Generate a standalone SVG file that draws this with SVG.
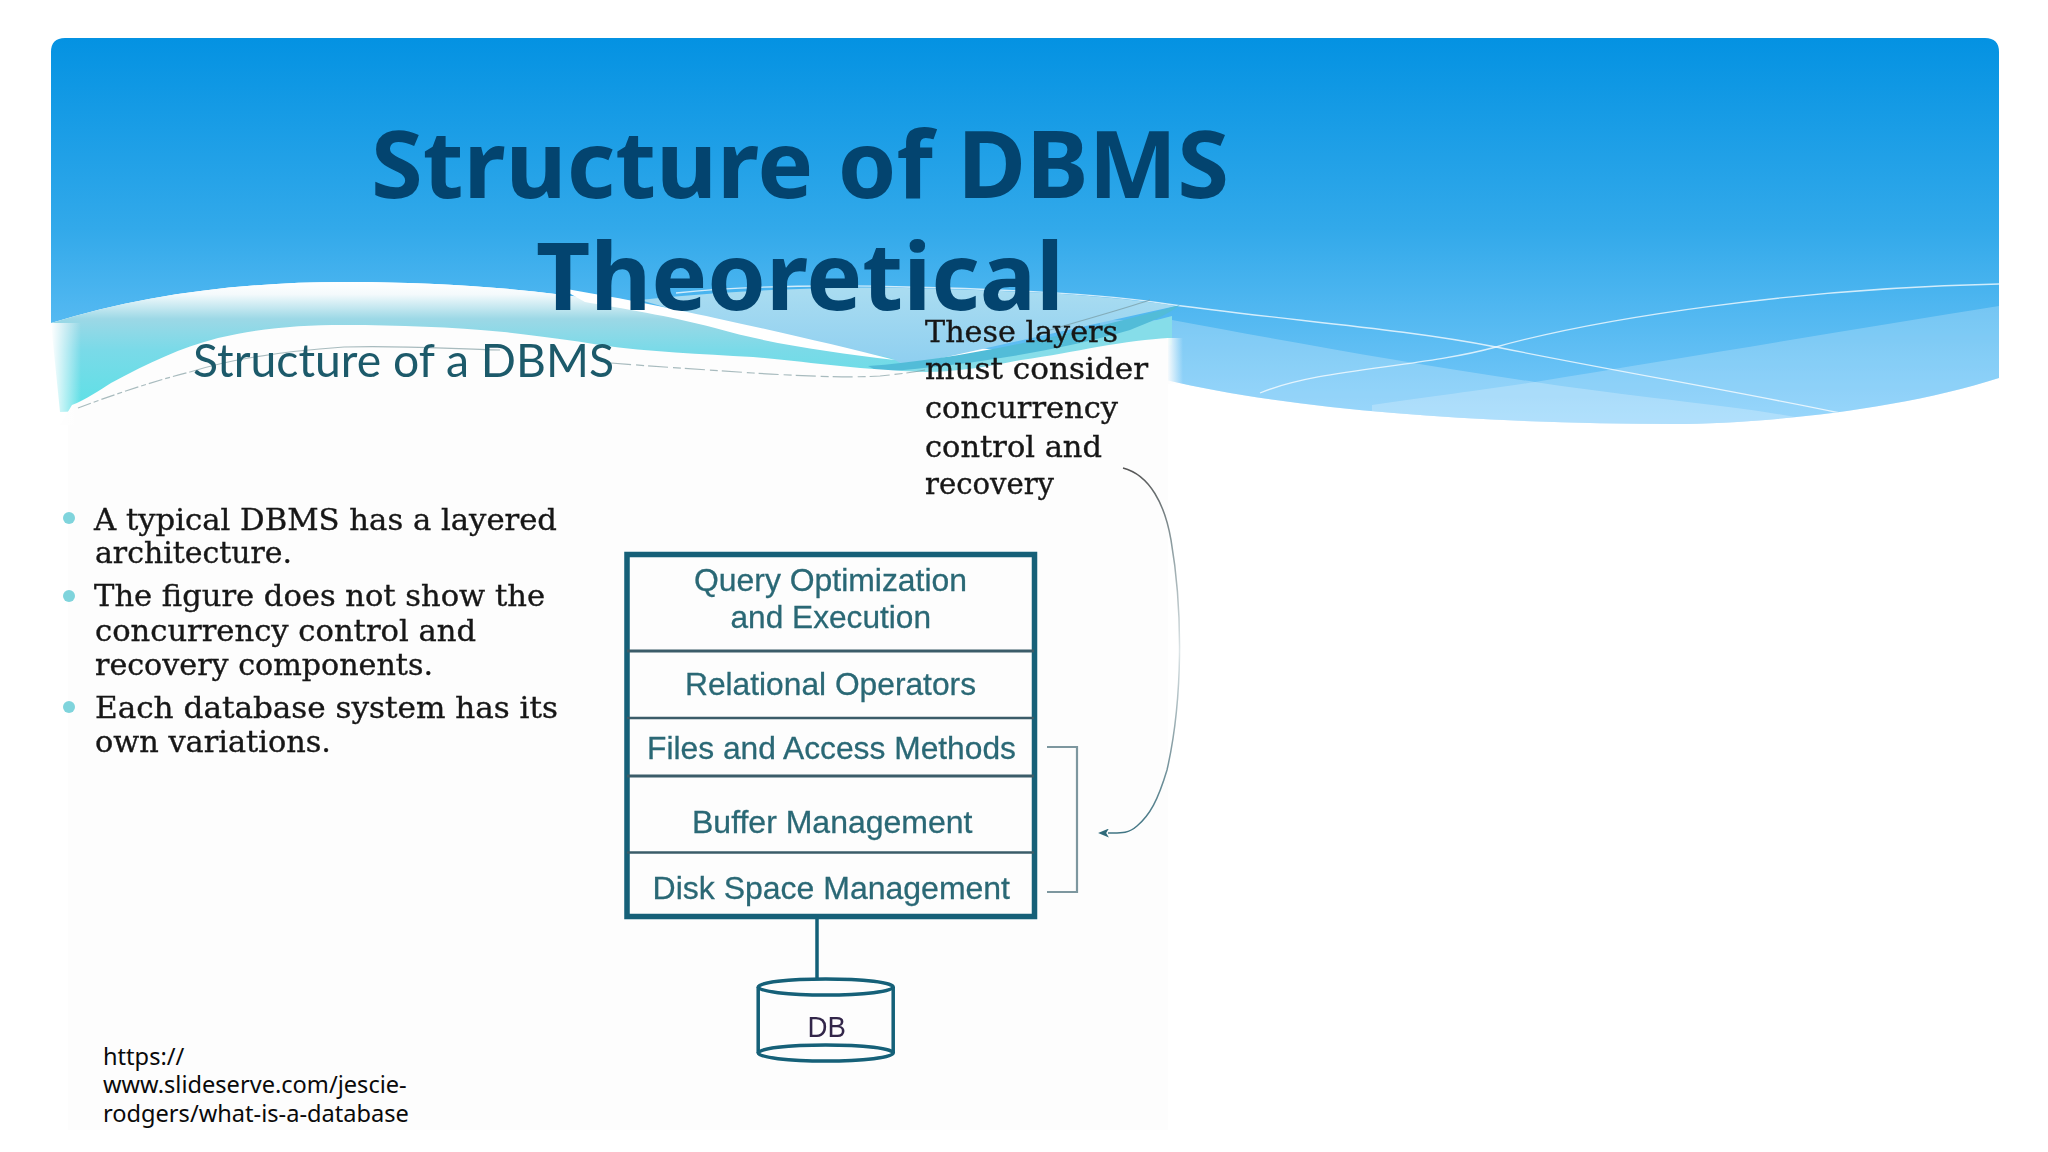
<svg xmlns="http://www.w3.org/2000/svg" width="2048" height="1152" viewBox="0 0 2048 1152">
<style>
.title{font:700 94px "Noto Sans",sans-serif;fill:#03446f;text-anchor:middle}
.src{font:23.600px "Noto Sans",sans-serif;fill:#0a0a0a}
.serif{font:29.500px "DejaVu Serif",serif;fill:#161616;stroke:#161616;stroke-width:.35}
.layer{font:32px "Liberation Sans",Arial,sans-serif;fill:#2a6875;stroke:#2a6875;stroke-width:.3}
.head{font:46px Lato,sans-serif;fill:#1f5a6b}
.divider{stroke:#3a5c69;fill:none}
.cyl{fill:none;stroke:#126078;stroke-width:3.500}
.thin{fill:none;stroke:#6f8f94;stroke-width:1.200;opacity:.6}
.wline{fill:none;stroke:#fff;stroke-width:1.300;opacity:.75}
</style>
<defs>
<linearGradient id="sky" gradientUnits="userSpaceOnUse" x1="0" y1="38" x2="0" y2="420"><stop offset="0" stop-color="#0492e2"/><stop offset=".5" stop-color="#32a9ea"/><stop offset=".8" stop-color="#5dbdf3"/><stop offset="1" stop-color="#7bcafa"/></linearGradient>
<linearGradient id="teal" gradientUnits="userSpaceOnUse" x1="0" y1="282" x2="0" y2="405"><stop offset="0" stop-color="#fff"/><stop offset=".1" stop-color="#f4fafc"/><stop offset=".3" stop-color="#9cd8e6"/><stop offset=".55" stop-color="#7adae8"/><stop offset="1" stop-color="#5fe0e6"/></linearGradient>
<linearGradient id="lblue" gradientUnits="userSpaceOnUse" x1="0" y1="290" x2="0" y2="365"><stop offset="0" stop-color="#a9dcf1"/><stop offset="1" stop-color="#8ecff0"/></linearGradient>
<linearGradient id="fadeL" x1="0" y1="0" x2="1" y2="0"><stop offset="0" stop-color="#fff"/><stop offset="1" stop-color="#fff" stop-opacity="0"/></linearGradient>
<linearGradient id="fadeR" x1="0" y1="0" x2="1" y2="0"><stop offset="0" stop-color="#fdfdfd"/><stop offset="1" stop-color="#fdfdfd" stop-opacity="0"/></linearGradient>
<linearGradient id="curveStroke" gradientUnits="userSpaceOnUse" x1="0" y1="468" x2="0" y2="835"><stop offset="0" stop-color="#555"/><stop offset=".2" stop-color="#8a9a9e"/><stop offset=".5" stop-color="#dde5e7"/><stop offset=".75" stop-color="#8aa0a6"/><stop offset="1" stop-color="#3f7483"/></linearGradient>
<clipPath id="skyClip"><path d="M51 52 Q51 38 65 38 H1985 Q1999 38 1999 52 V378 C1900 410 1760 424 1674 424 C1500 424 1300 412 1166 380 C1050 350 900 340 700 320 C600 295 480 282 344 282 C240 282 140 295 51 323 Z"/></clipPath>
<filter id="soft" x="-5%" y="-5%" width="110%" height="110%"><feGaussianBlur stdDeviation=".6"/></filter>
<marker id="arr" viewBox="0 0 12 10" refX="1" refY="5" markerWidth="12" markerHeight="9" markerUnits="userSpaceOnUse" orient="auto"><path d="M12 5 L0 0 L3 5 L0 10 Z" fill="#2f6a7a"/></marker>
</defs>

<rect width="2048" height="1152" fill="#fff"/>

<g id="slide-background">
<path d="M51 52 Q51 38 65 38 H1985 Q1999 38 1999 52 V378 C1900 410 1760 424 1674 424 C1500 424 1300 412 1166 380 C1050 350 900 340 700 320 C600 295 480 282 344 282 C240 282 140 295 51 323 Z" fill="url(#sky)"/>
<g clip-path="url(#skyClip)">
<path d="M1172 320 C1280 340 1400 362 1535 382 C1640 398 1730 405 1795 417 L1795 440 L1100 440 L1100 320 Z" fill="#fff" opacity=".24"/>
<path d="M1999 306 C1850 330 1700 355 1535 382 C1470 392 1420 398 1372 405 L1372 440 L1999 440 Z" fill="#fff" opacity=".22"/>
<path class="wline" d="M1260 393 C1320 368 1420 368 1496 347 C1600 318 1800 288 1999 284"/>
<path class="wline" d="M676 293 C750 285 850 285 906 287 C1000 289 1090 293 1160 303 C1280 320 1400 328 1496 347 C1620 372 1740 392 1840 413"/>
</g>
</g>

<g id="embedded-slide-waves">
<path d="M640 300 C730 290 850 286 906 288 C1000 290 1100 294 1176 306 L906 366 L780 340 Z" fill="url(#lblue)"/>
<path d="M51 323 C140 295 240 282 344 282 C480 282 600 295 700 320 L891 358 L925 376 L60 412 Z" fill="url(#teal)"/>
<path d="M560 288 C610 296 670 308 715 318 C780 332 840 346 895 360 C830 352 770 344 715 328 C670 316 620 308 585 302 Z" fill="#fff"/>
<path d="M870 372 C1000 360 1100 335 1172 316 L1172 345 L925 378 Z" fill="#86dde9"/>
<path d="M868 366 C960 360 1090 330 1180 305 C1165 316 1150 322 1130 330 C1060 350 980 364 880 372 Z" fill="#52bcd8"/>
<path d="M60 425 L72 405 C85 400 100 390 111 383 C150 362 180 348 218 338 C260 328 300 325 344 325 C400 325 450 327 504 332 C540 336 570 340 600 345 C650 352 700 354 753 357 C810 362 860 370 925 372 C960 372 990 366 1021 360 C1050 356 1075 351 1097 347 C1125 342 1150 339 1168 338 V1130 H68 V425 Z" fill="#fdfdfd"/>
<rect x="51" y="323" width="30" height="102" fill="url(#fadeL)"/>
<rect x="1167" y="338" width="16" height="46" fill="url(#fadeR)"/>
<path class="thin" stroke-dasharray="14 3 5 3" d="M78 408 C110 396 150 382 190 372"/>
<path class="thin" d="M190 372 C240 356 300 350 344 347 C400 345 450 349 500 350"/>
<path class="thin" stroke-dasharray="20 5 8 4" d="M611 363 C660 367 710 370 753 373 C800 376 850 378 880 376 C900 374 915 372 925 370"/>
<path class="thin" d="M1050 330 C1090 318 1120 310 1150 300"/>
</g>

<g id="heading" filter="url(#soft)"><text class="head" x="193" y="377" textLength="421" lengthAdjust="spacingAndGlyphs">Structure of a DBMS</text></g>

<g id="bullets" filter="url(#soft)">
<circle cx="69" cy="518" r="6" fill="#7fd4dc"/><circle cx="69" cy="596" r="6" fill="#7fd4dc"/><circle cx="69" cy="707" r="6" fill="#7fd4dc"/>
<text class="serif" x="94" y="530" textLength="463" lengthAdjust="spacingAndGlyphs">A typical DBMS has a layered</text>
<text class="serif" x="95" y="563" textLength="197" lengthAdjust="spacingAndGlyphs">architecture.</text>
<text class="serif" x="94" y="606" textLength="451" lengthAdjust="spacingAndGlyphs">The figure does not show the</text>
<text class="serif" x="95" y="641" textLength="381" lengthAdjust="spacingAndGlyphs">concurrency control and</text>
<text class="serif" x="95" y="675" textLength="338" lengthAdjust="spacingAndGlyphs">recovery components.</text>
<text class="serif" x="95" y="718" textLength="463" lengthAdjust="spacingAndGlyphs">Each database system has its</text>
<text class="serif" x="95" y="752" textLength="236" lengthAdjust="spacingAndGlyphs">own variations.</text>
</g>

<g id="note" filter="url(#soft)">
<text class="serif" x="925" y="342" textLength="193" lengthAdjust="spacingAndGlyphs">These layers</text>
<text class="serif" x="925" y="379" textLength="223" lengthAdjust="spacingAndGlyphs">must consider</text>
<text class="serif" x="925" y="418" textLength="193" lengthAdjust="spacingAndGlyphs">concurrency</text>
<text class="serif" x="925" y="457" textLength="177" lengthAdjust="spacingAndGlyphs">control and</text>
<text class="serif" x="925" y="494" textLength="129" lengthAdjust="spacingAndGlyphs">recovery</text>
</g>

<g id="connectors">
<path d="M817 919 V979" fill="none" stroke="#126078" stroke-width="3.500"/>
<path d="M1047 747 H1077 V892 H1047" fill="none" stroke="#7d979f" stroke-width="2.200"/>
<path d="M1123 468 C1150 475 1165 505 1171 540 C1183 610 1183 700 1167 770 C1158 800 1150 815 1137 826 C1128 834 1120 833 1108 833" fill="none" stroke="url(#curveStroke)" stroke-width="1.500" marker-end="url(#arr)"/>
</g>

<g id="layer-stack" filter="url(#soft)">
<rect x="627" y="554.500" width="407.500" height="362" fill="#fdfdfd" stroke="#126078" stroke-width="5.500"/>
<path class="divider" stroke-width="3.200" d="M627 651 H1034"/>
<path class="divider" stroke-width="2.400" d="M627 718 H1034"/>
<path class="divider" stroke-width="3.200" d="M627 776 H1034"/>
<path class="divider" stroke-width="2.400" d="M627 852.500 H1034"/>
</g>
<g id="query-optimization" filter="url(#soft)"><text class="layer" x="694" y="591" textLength="273" lengthAdjust="spacingAndGlyphs">Query Optimization</text><text class="layer" x="730.500" y="628" textLength="200.500" lengthAdjust="spacingAndGlyphs">and Execution</text></g>
<g id="relational-operators" filter="url(#soft)"><text class="layer" x="685" y="695" textLength="291" lengthAdjust="spacingAndGlyphs">Relational Operators</text></g>
<g id="files-access" filter="url(#soft)"><text class="layer" x="647" y="758.500" textLength="369" lengthAdjust="spacingAndGlyphs">Files and Access Methods</text></g>
<g id="buffer-management" filter="url(#soft)"><text class="layer" x="692" y="832.500" textLength="280.500" lengthAdjust="spacingAndGlyphs">Buffer Management</text></g>
<g id="disk-space" filter="url(#soft)"><text class="layer" x="652.600" y="898.600" textLength="357.400" lengthAdjust="spacingAndGlyphs">Disk Space Management</text></g>

<g id="db" filter="url(#soft)">
<ellipse class="cyl" cx="825.700" cy="987" rx="67.500" ry="8"/>
<path class="cyl" d="M758.200 987 V1053 M893.200 987 V1053"/>
<ellipse class="cyl" cx="825.700" cy="1053" rx="67.500" ry="8"/>
<text x="807.600" y="1037" textLength="38.400" lengthAdjust="spacingAndGlyphs" style="font:30px 'Liberation Sans',Arial,sans-serif;fill:#33264a">DB</text>
</g>

<g id="title">
<text class="title" x="800" y="198">Structure of DBMS</text>
<text class="title" x="800" y="310">Theoretical</text>
</g>

<g id="source">
<text class="src" x="103" y="1065">https://</text>
<text class="src" x="103" y="1093">www.slideserve.com/jescie-</text>
<text class="src" x="103" y="1122">rodgers/what-is-a-database</text>
</g>
</svg>
